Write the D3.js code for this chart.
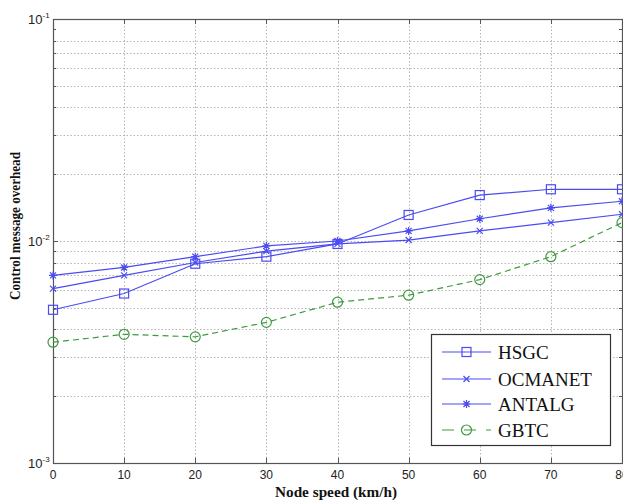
<!DOCTYPE html>
<html>
<head>
<meta charset="utf-8">
<script src="https://cdn.jsdelivr.net/npm/d3@7"></script>
<style>
body { margin: 0; background: #fff; }
</style>
</head>
<body>
<svg id="chart" width="623" height="502"></svg>
<script>
var speeds = [0, 10, 20, 30, 40, 50, 60, 70, 80];
var hsgc    = [0.0049, 0.0058, 0.0079, 0.0085, 0.0097, 0.0131, 0.0161, 0.0171, 0.0171];
var ocmanet = [0.0061, 0.0070, 0.0080, 0.0090, 0.0097, 0.0101, 0.0111, 0.0121, 0.0132];
var antalg  = [0.0070, 0.0076, 0.0085, 0.0095, 0.0100, 0.0111, 0.0126, 0.0141, 0.0151];
var gbtc    = [0.0035, 0.0038, 0.0037, 0.0043, 0.0053, 0.0057, 0.0067, 0.0085, 0.0121];
var xTicks = [0, 10, 20, 30, 40, 50, 60, 70, 80];
var yDecades = [-3, -2, -1];

var blue = "#4b4bf2", green = "#3f9a3f";
var series = [
  { name: "HSGC", values: hsgc, color: blue, marker: "square", dash: null },
  { name: "OCMANET", values: ocmanet, color: blue, marker: "x", dash: null },
  { name: "ANTALG", values: antalg, color: blue, marker: "star", dash: null },
  { name: "GBTC", values: gbtc, color: green, marker: "circle", dash: "6,4" }
];

var svg = d3.select("#chart");
var pLeft = 53, pRight = 622, pTop = 19, pBottom = 463;

var x = d3.scaleLinear().domain([0, 80]).range([pLeft, pRight]);
var y = d3.scaleLog().domain([0.001, 0.1]).range([pBottom, pTop]);

// grid
var minorVals = [];
for (var e = -3; e < -1; e++) {
  for (var k = 1; k <= 9; k++) minorVals.push(k * Math.pow(10, e));
}
minorVals.push(0.1);

var grid = svg.append("g").attr("stroke", "#b5b5b5").attr("stroke-width", 1)
  .attr("stroke-dasharray", "1.5,2");
grid.selectAll("line.h").data(minorVals.filter(function (v) { return v > 0.0011 && v < 0.09; }))
  .enter().append("line")
  .attr("x1", pLeft).attr("x2", pRight)
  .attr("y1", function (d) { return Math.round(y(d)) + 0.5; })
  .attr("y2", function (d) { return Math.round(y(d)) + 0.5; });
grid.selectAll("line.v").data(xTicks.slice(1, -1))
  .enter().append("line")
  .attr("y1", pTop).attr("y2", pBottom)
  .attr("x1", function (d) { return Math.round(x(d)) + 0.5; })
  .attr("x2", function (d) { return Math.round(x(d)) + 0.5; });

// frame and inward ticks
var axisColor = "#555";
svg.append("rect").attr("x", pLeft + 0.5).attr("y", pTop + 0.5)
  .attr("width", pRight - pLeft).attr("height", pBottom - pTop)
  .attr("fill", "none").attr("stroke", axisColor).attr("stroke-width", 1.2);

var ticks = svg.append("g").attr("stroke", axisColor).attr("stroke-width", 1);
xTicks.forEach(function (t) {
  var px = Math.round(x(t)) + 0.5;
  ticks.append("line").attr("x1", px).attr("x2", px).attr("y1", pBottom).attr("y2", pBottom - 5);
  ticks.append("line").attr("x1", px).attr("x2", px).attr("y1", pTop).attr("y2", pTop + 5);
});
minorVals.forEach(function (v) {
  var py = Math.round(y(v)) + 0.5;
  var len = (Math.abs(Math.log10(v) - Math.round(Math.log10(v))) < 1e-9) ? 5 : 3;
  ticks.append("line").attr("x1", pLeft).attr("x2", pLeft + len).attr("y1", py).attr("y2", py);
  ticks.append("line").attr("x1", pRight).attr("x2", pRight - len).attr("y1", py).attr("y2", py);
});

// tick labels
var xLab = svg.append("g").attr("font-family", "Liberation Sans, Arial, sans-serif")
  .attr("font-size", 12).attr("fill", "#222").attr("text-anchor", "middle");
xLab.selectAll("text").data(xTicks).enter().append("text")
  .attr("x", function (d) { return x(d); }).attr("y", pBottom + 16)
  .text(function (d) { return d; });

var yLab = svg.append("g").attr("font-family", "Liberation Sans, Arial, sans-serif")
  .attr("fill", "#222");
yDecades.forEach(function (e) {
  var py = y(Math.pow(10, e));
  var t = yLab.append("text").attr("x", 28).attr("y", py + 5).attr("font-size", 13);
  t.append("tspan").text("10");
  t.append("tspan").attr("font-size", 8).attr("dy", -6).text(e);
});

// axis titles
svg.append("text")
  .attr("x", 336).attr("y", 497)
  .attr("text-anchor", "middle")
  .attr("font-family", "Liberation Serif, Times New Roman, serif")
  .attr("font-weight", "bold").attr("font-size", 15).attr("fill", "#111")
  .attr("textLength", 122).attr("lengthAdjust", "spacingAndGlyphs")
  .text("Node speed (km/h)");
svg.append("text")
  .attr("transform", "translate(20,226) rotate(-90)")
  .attr("text-anchor", "middle")
  .attr("font-family", "Liberation Serif, Times New Roman, serif")
  .attr("font-weight", "bold").attr("font-size", 15).attr("fill", "#111")
  .attr("textLength", 148).attr("lengthAdjust", "spacingAndGlyphs")
  .text("Control message overhead");

// markers
function drawMarker(g, type, cx, cy, color) {
  if (type === "square") {
    g.append("rect").attr("x", cx - 4.5).attr("y", cy - 4.5).attr("width", 9).attr("height", 9)
      .attr("fill", "none").attr("stroke", color).attr("stroke-width", 1.2);
  } else if (type === "x") {
    g.append("path").attr("d", "M" + (cx - 3) + "," + (cy - 3) + "L" + (cx + 3) + "," + (cy + 3) +
      "M" + (cx - 3) + "," + (cy + 3) + "L" + (cx + 3) + "," + (cy - 3))
      .attr("stroke", color).attr("stroke-width", 1.2);
  } else if (type === "star") {
    g.append("path").attr("d", "M" + (cx - 4) + "," + cy + "L" + (cx + 4) + "," + cy +
      "M" + cx + "," + (cy - 4) + "L" + cx + "," + (cy + 4) +
      "M" + (cx - 3) + "," + (cy - 3) + "L" + (cx + 3) + "," + (cy + 3) +
      "M" + (cx - 3) + "," + (cy + 3) + "L" + (cx + 3) + "," + (cy - 3))
      .attr("stroke", color).attr("stroke-width", 1.2);
  } else if (type === "circle") {
    g.append("circle").attr("cx", cx).attr("cy", cy).attr("r", 5)
      .attr("fill", "none").attr("stroke", color).attr("stroke-width", 1.2);
  }
}

var line = d3.line()
  .x(function (d, i) { return x(speeds[i]); })
  .y(function (d) { return y(d); });

series.forEach(function (s) {
  var g = svg.append("g");
  g.append("path").datum(s.values).attr("d", line)
    .attr("fill", "none").attr("stroke", s.color).attr("stroke-width", 1.2)
    .attr("stroke-dasharray", s.dash);
  s.values.forEach(function (v, i) {
    drawMarker(g, s.marker, x(speeds[i]), y(v), s.color);
  });
});

// legend
var lg = svg.append("g");
lg.append("rect").attr("x", 431.5).attr("y", 334.5).attr("width", 179).attr("height", 111)
  .attr("fill", "#fff").attr("stroke", "#333").attr("stroke-width", 1.2);
var legendY = [352, 379, 404, 430];
series.forEach(function (s, i) {
  var ly = legendY[i];
  lg.append("line").attr("x1", 442).attr("x2", 491).attr("y1", ly).attr("y2", ly)
    .attr("stroke", s.color).attr("stroke-width", 1.2).attr("stroke-dasharray", s.dash ? "12,10" : null);
  drawMarker(lg, s.marker, 466.5, ly, s.color);
  lg.append("text").attr("x", 498).attr("y", ly + 7)
    .attr("font-family", "Liberation Serif, Times New Roman, serif")
    .attr("font-size", 19).attr("fill", "#111")
    .text(s.name);
});
</script>
</body>
</html>
